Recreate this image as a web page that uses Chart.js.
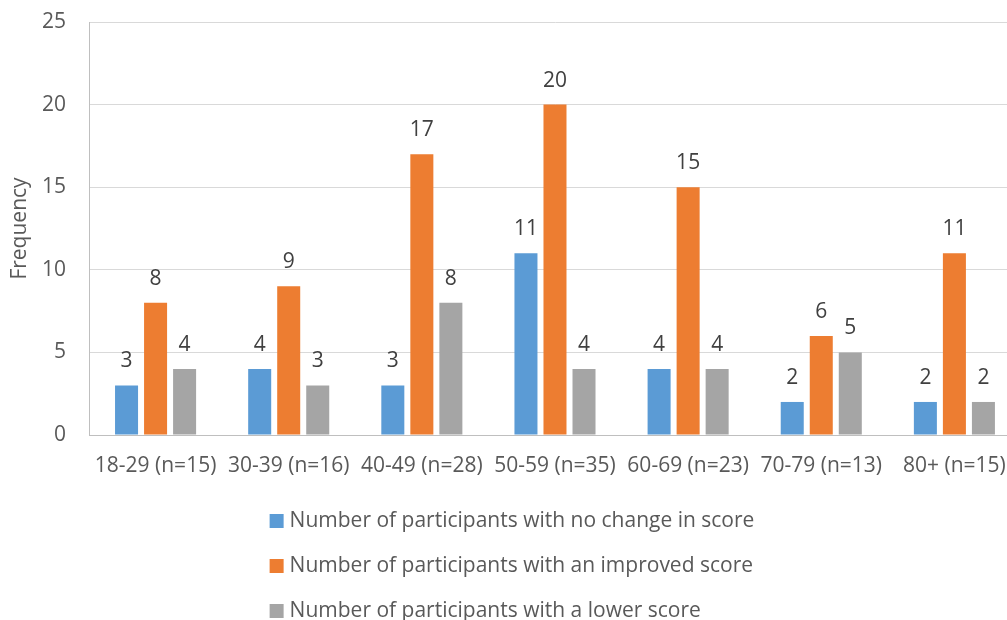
<!DOCTYPE html>
<html>
<head>
<meta charset="utf-8">
<script src="https://cdn.jsdelivr.net/npm/chart.js@4/dist/chart.umd.min.js"></script>
<style>
  html, body { margin: 0; padding: 0; background: #ffffff; overflow: hidden; }
  #wrap { width: 1024px; height: 620px; position: relative; }
</style>
</head>
<body>
<div id="wrap"><canvas id="chart"></canvas></div>
<script>
// Age groups and participant counts per score outcome
const ageGroups = ['18-29 (n=15)', '30-39 (n=16)', '40-49 (n=28)', '50-59 (n=35)', '60-69 (n=23)', '70-79 (n=13)', '80+ (n=15)'];
const noChange  = [3, 4, 3, 11, 4, 2, 2];
const improved  = [8, 9, 17, 20, 15, 6, 11];
const lower     = [4, 3, 8, 4, 4, 5, 2];
const seriesNames = [
  'Number of participants with no change in score',
  'Number of participants with an improved score',
  'Number of participants with a lower score'
];
const seriesColors = ['#5B9BD5', '#ED7D31', '#A5A5A5'];
const yTicks = [0, 5, 10, 15, 20, 25];

const FONT = '"Open Sans", "Liberation Sans", sans-serif';
const FONT_SIZE = 21;

// Value labels above each bar
const valueLabels = {
  id: 'valueLabels',
  afterDatasetsDraw(chart) {
    const ctx = chart.ctx;
    ctx.save();
    ctx.font = FONT_SIZE + 'px ' + FONT;
    ctx.fillStyle = '#404040';
    ctx.textAlign = 'center';
    ctx.textBaseline = 'alphabetic';
    chart.data.datasets.forEach((ds, i) => {
      const meta = chart.getDatasetMeta(i);
      meta.data.forEach((bar, j) => {
        ctx.fillText(String(ds.data[j]), bar.x, bar.y - 18);
      });
    });
    ctx.restore();
  }
};

// Stacked legend below the axis labels
const stackedLegend = {
  id: 'stackedLegend',
  afterDraw(chart) {
    const ctx = chart.ctx;
    ctx.save();
    ctx.font = FONT_SIZE + 'px ' + FONT;
    const box = 14, gap = 6, rowGap = 45;
    let maxW = 0;
    chart.data.datasets.forEach(ds => { maxW = Math.max(maxW, ctx.measureText(ds.label).width); });
    const left = (chart.width - (box + gap + maxW)) / 2;
    const firstRow = chart.chartArea.bottom + 86;
    chart.data.datasets.forEach((ds, i) => {
      const cy = firstRow + i * rowGap;
      ctx.fillStyle = ds.backgroundColor;
      ctx.fillRect(left, cy - box / 2, box, box);
      ctx.fillStyle = '#595959';
      ctx.textAlign = 'left';
      ctx.textBaseline = 'middle';
      ctx.fillText(ds.label, left + box + gap, cy);
    });
    ctx.restore();
  }
};

const datasets = [noChange, improved, lower].map((values, i) => ({
  label: seriesNames[i],
  data: values,
  backgroundColor: seriesColors[i],
  categoryPercentage: 0.654,
  barPercentage: 0.793
}));

new Chart(document.getElementById('chart'), {
  type: 'bar',
  data: { labels: ageGroups, datasets },
  options: {
    responsive: true,
    maintainAspectRatio: false,
    animation: false,
    events: [],
    layout: { padding: { left: 0, top: 22, right: 3, bottom: 0 } },
    plugins: { legend: { display: false }, tooltip: { enabled: false } },
    scales: {
      x: {
        grid: { display: false, drawTicks: false },
        border: { display: true, color: '#bfbfbf', width: 1 },
        ticks: { color: '#595959', font: { family: FONT, size: FONT_SIZE }, padding: 18, maxRotation: 0, autoSkip: false },
        afterFit(scale) { scale.height = 185; }
      },
      y: {
        min: 0,
        max: 25,
        afterBuildTicks(scale) { scale.ticks = yTicks.map(v => ({ value: v })); },
        grid: { color: '#d9d9d9', drawTicks: false },
        border: { display: true, color: '#bfbfbf', width: 1 },
        ticks: { color: '#595959', font: { family: FONT, size: FONT_SIZE }, padding: 23 },
        title: { display: true, text: 'Frequency', color: '#595959', font: { family: FONT, size: FONT_SIZE }, padding: { top: 7, bottom: 0 } },
        afterFit(scale) {
          scale.width = 89;
          // only half a label of room is needed above the top tick
          scale.paddingTop = 13;
          scale.paddingBottom = 13;
        }
      }
    }
  },
  plugins: [valueLabels, stackedLegend]
});
</script>
</body>
</html>
